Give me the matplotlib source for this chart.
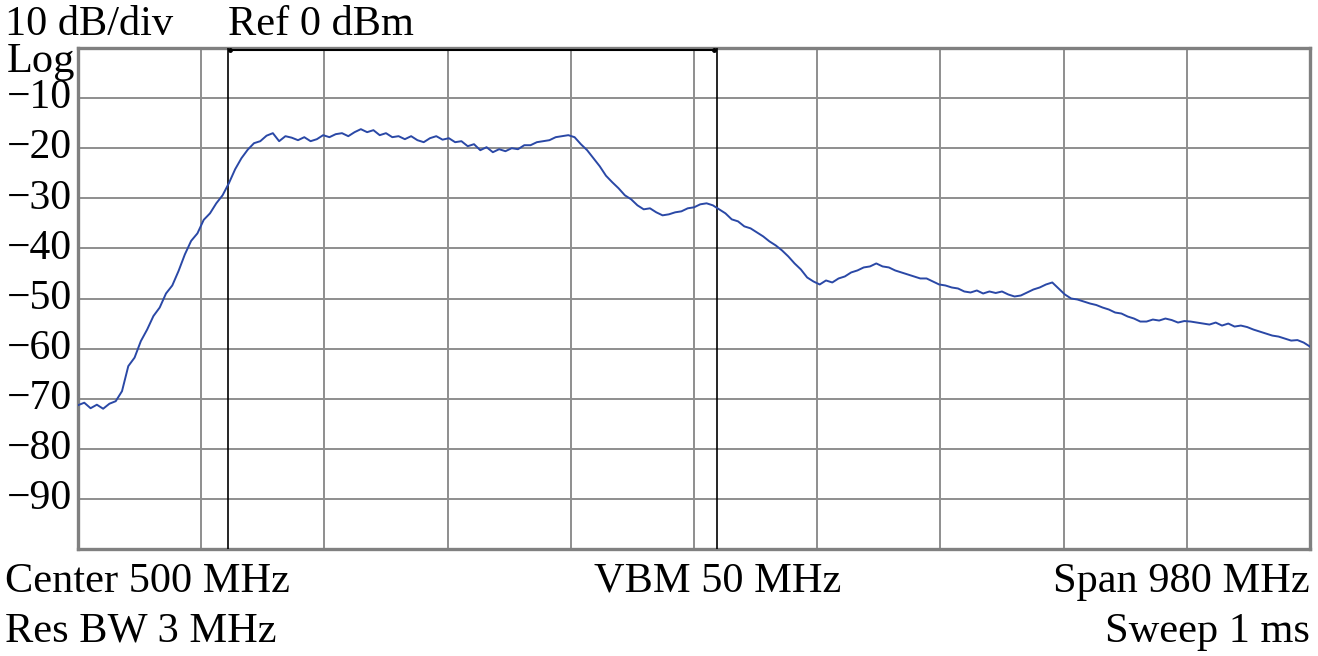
import numpy as np
import matplotlib
matplotlib.use("Agg")
import matplotlib.pyplot as plt

plt.rcParams['font.family'] = ['Liberation Serif', 'DejaVu Serif']

# sweep: center 500 MHz, span 980 MHz -> 10 ... 990 MHz, read every 5 MHz
f_start, f_stop, f_step = 10, 990, 5
freq_mhz = np.arange(f_start, f_stop + f_step, f_step)

level_dbm = [
    -71.3, -70.8, -71.9, -71.2, -72.0, -71.0, -70.5, -68.5, -63.5, -61.8,
    -58.5, -56.2, -53.5, -51.8, -49.0, -47.4, -44.5, -41.2, -38.5, -37.0,
    -34.3, -33.0, -31.0, -29.4, -27.0, -24.2, -22.0, -20.3, -19.0, -18.6,
    -17.5, -17.0, -18.6, -17.6, -17.9, -18.4, -17.8, -18.6, -18.2, -17.4,
    -17.8, -17.2, -17.0, -17.6, -16.8, -16.2, -16.8, -16.4, -17.4, -17.0,
    -17.8, -17.6, -18.2, -17.6, -18.4, -18.8, -18.0, -17.6, -18.3, -18.0,
    -18.8, -18.6, -19.6, -19.2, -20.4, -19.8, -20.8, -20.2, -20.6, -20.0,
    -20.2, -19.4, -19.4, -18.8, -18.6, -18.4, -17.8, -17.6, -17.4, -17.8,
    -19.2, -20.4, -22.0, -23.6, -25.5, -26.8, -28.0, -29.4, -30.2, -31.4,
    -32.2, -32.0, -32.8, -33.4, -33.2, -32.8, -32.6, -32.0, -31.8, -31.2,
    -31.0, -31.4, -32.2, -33.0, -34.2, -34.6, -35.6, -36.0, -36.8, -37.6,
    -38.6, -39.4, -40.4, -41.6, -43.0, -44.2, -45.8, -46.6, -47.2, -46.4,
    -46.8, -46.0, -45.6, -44.8, -44.4, -43.8, -43.6, -43.0, -43.6, -43.8,
    -44.4, -44.8, -45.2, -45.6, -46.0, -46.0, -46.6, -47.2, -47.4, -47.8,
    -48.0, -48.6, -48.8, -48.4, -49.0, -48.6, -48.9, -48.6, -49.2, -49.6,
    -49.4, -48.8, -48.2, -47.8, -47.2, -46.8, -48.0, -49.2, -50.0, -50.2,
    -50.6, -51.0, -51.3, -51.8, -52.2, -52.8, -53.0, -53.6, -54.0, -54.6,
    -54.6, -54.2, -54.4, -54.0, -54.3, -54.8, -54.5, -54.6, -54.8, -55.0,
    -55.2, -54.8, -55.4, -55.0, -55.6, -55.4, -55.7, -56.2, -56.6, -57.0,
    -57.4, -57.6, -58.0, -58.4, -58.3, -58.8, -59.6,
]

marker_freqs = [129, 518]
y_ticks = [-10, -20, -30, -40, -50, -60, -70, -80, -90]
y_tick_labels = ["\u221210", "\u221220", "\u221230", "\u221240", "\u221250",
                 "\u221260", "\u221270", "\u221280", "\u221290"]

W, H = 1318, 656
fig = plt.figure(figsize=(W / 100, H / 100), dpi=100)
ax = fig.add_axes([78 / W, 1 - 549 / H, (1310 - 78) / W, (549 - 48) / H])

grid_col = '#8e8e8e'
ax.set_xlim(f_start, f_stop)
ax.set_ylim(-100, 0)
ax.set_xticks(np.linspace(f_start, f_stop, 11))
ax.set_yticks(np.arange(-100, 1, 10))
ax.grid(True, color=grid_col, linewidth=1.4)
ax.tick_params(length=0, labelbottom=False, labelleft=False)
for sp in ax.spines.values():
    sp.set_color('#808080')
    sp.set_linewidth(2.4)

# marker lines + bracket on top
for mf in marker_freqs:
    ax.axvline(mf, color='black', linewidth=1.2, zorder=3)
ax.plot([marker_freqs[0] + 2, marker_freqs[1] - 2], [-0.4, -0.4], color='black',
        linewidth=1.5, marker='o', markersize=2.5, clip_on=False, zorder=4)

ax.plot(freq_mhz, level_dbm, color='#2a48a6', linewidth=1.4, zorder=5)

# y labels drawn as plain text next to the grid lines
for yv, lab in zip(y_ticks, y_tick_labels):
    ax.text(-0.005, (yv + 100) / 100, lab, transform=ax.transAxes,
            ha='right', va='center', fontsize=30)

fs = 30.5
def ftext(x_px, y_px, s, ha='left'):
    fig.text(x_px / W, 1 - y_px / H, s, ha=ha, va='baseline', fontsize=fs)

ftext(5, 35, "10 dB/div")
ftext(228, 35, "Ref 0 dBm")
ftext(7, 72, "Log")
ftext(5, 592, "Center 500 MHz")
ftext(718, 592, "VBM 50 MHz", ha='center')
ftext(1310, 592, "Span 980 MHz", ha='right')
ftext(5, 642, "Res BW 3 MHz")
ftext(1310, 642, "Sweep 1 ms", ha='right')

fig.savefig("out.png", dpi=100)
